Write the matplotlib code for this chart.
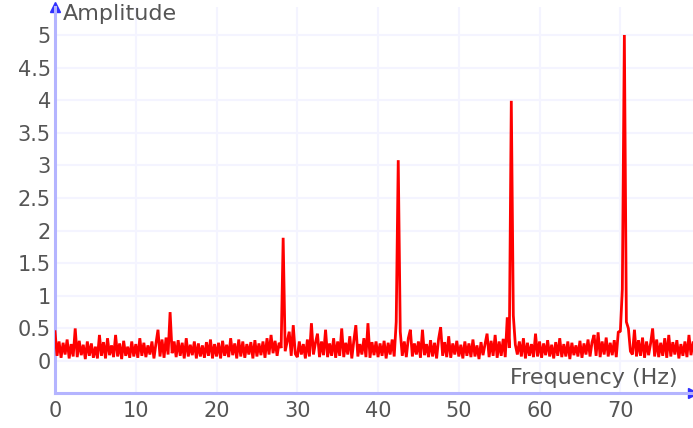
import numpy as np
import matplotlib.pyplot as plt

plt.rcParams['font.family'] = ['DejaVu Sans']

# ---- spectrum data (amplitude every 0.25 Hz from 0 to 79 Hz) ----
freq_step = 0.25
amp = [
    0.45, 0.08, 0.30, 0.05, 0.28, 0.10, 0.33, 0.04, 0.26, 0.07, 0.50, 0.06, 0.31, 0.09, 0.25, 0.03, 0.30, 0.08, 0.27, 0.05,
    0.22, 0.04, 0.40, 0.08, 0.29, 0.04, 0.35, 0.09, 0.24, 0.06, 0.40, 0.07, 0.27, 0.03, 0.31, 0.08, 0.22, 0.05, 0.30, 0.07,
    0.26, 0.05, 0.35, 0.08, 0.28, 0.06, 0.24, 0.10, 0.30, 0.04, 0.27, 0.48, 0.07, 0.33, 0.05, 0.36, 0.10, 0.75, 0.12, 0.30,
    0.06, 0.32, 0.08, 0.28, 0.04, 0.35, 0.07, 0.25, 0.09, 0.30, 0.04, 0.27, 0.07, 0.24, 0.05, 0.29, 0.08, 0.33, 0.04, 0.26,
    0.07, 0.28, 0.04, 0.31, 0.08, 0.25, 0.06, 0.35, 0.09, 0.27, 0.04, 0.33, 0.07, 0.30, 0.05, 0.26, 0.10, 0.29, 0.04, 0.32,
    0.07, 0.27, 0.09, 0.30, 0.05, 0.35, 0.10, 0.40, 0.12, 0.31, 0.08, 0.28, 0.20, 1.89, 0.15, 0.30, 0.45, 0.08, 0.55, 0.11,
    0.06, 0.30, 0.10, 0.26, 0.04, 0.33, 0.07, 0.58, 0.10, 0.28, 0.42, 0.06, 0.30, 0.09, 0.48, 0.06, 0.27, 0.08, 0.35, 0.05,
    0.30, 0.08, 0.50, 0.06, 0.28, 0.10, 0.38, 0.04, 0.31, 0.55, 0.07, 0.26, 0.10, 0.35, 0.06, 0.58, 0.05, 0.29, 0.09, 0.30,
    0.06, 0.27, 0.08, 0.31, 0.04, 0.28, 0.10, 0.33, 0.07, 0.60, 3.08, 0.45, 0.08, 0.30, 0.06, 0.35, 0.48, 0.07, 0.27, 0.10,
    0.30, 0.05, 0.48, 0.09, 0.26, 0.06, 0.32, 0.07, 0.28, 0.04, 0.34, 0.52, 0.08, 0.29, 0.06, 0.38, 0.05, 0.27, 0.10, 0.31,
    0.07, 0.25, 0.04, 0.30, 0.08, 0.27, 0.06, 0.33, 0.07, 0.24, 0.03, 0.29, 0.09, 0.26, 0.42, 0.06, 0.31, 0.08, 0.40, 0.05,
    0.30, 0.08, 0.34, 0.06, 0.67, 0.20, 3.99, 0.70, 0.25, 0.10, 0.30, 0.07, 0.35, 0.04, 0.28, 0.08, 0.26, 0.06, 0.42, 0.07,
    0.30, 0.05, 0.27, 0.09, 0.32, 0.07, 0.25, 0.04, 0.29, 0.08, 0.35, 0.06, 0.26, 0.07, 0.30, 0.03, 0.28, 0.09, 0.24, 0.07,
    0.31, 0.05, 0.27, 0.10, 0.33, 0.07, 0.29, 0.40, 0.08, 0.44, 0.06, 0.30, 0.10, 0.36, 0.07, 0.28, 0.09, 0.32, 0.06, 0.45,
    0.45, 1.10, 5.00, 0.60, 0.50, 0.15, 0.10, 0.48, 0.07, 0.32, 0.08, 0.36, 0.05, 0.30, 0.09, 0.27, 0.50, 0.07, 0.33, 0.06,
    0.28, 0.08, 0.35, 0.05, 0.40, 0.07, 0.29, 0.10, 0.32, 0.04, 0.26, 0.08, 0.30, 0.06, 0.40, 0.09, 0.28,
]
freq = np.arange(len(amp)) * freq_step

x_ticks = [0, 10, 20, 30, 40, 50, 60, 70]
y_ticks = [0, 0.5, 1, 1.5, 2, 2.5, 3, 3.5, 4, 4.5, 5]
y_labels = ['0', '0.5', '1', '1.5', '2', '2.5', '3', '3.5', '4', '4.5', '5']

# ---- figure ----
fig = plt.figure(figsize=(6.93, 4.28), dpi=100)
ax = fig.add_axes([0.0794, 0.0818, 0.9206, 0.902])

ax.plot(freq, amp, color='#ff0000', linewidth=2.0, solid_joinstyle='bevel', zorder=3)

ax.set_xlim(0, 79)
ax.set_ylim(-0.49, 5.43)
ax.set_xticks(x_ticks)
ax.set_yticks(y_ticks)
ax.set_yticklabels(y_labels)
ax.tick_params(axis='both', length=0, labelsize=15, colors='#555555')
ax.tick_params(axis='y', pad=3)
ax.tick_params(axis='x', pad=6)

ax.grid(True, color='#f4f4ff', linewidth=1.5)
ax.set_axisbelow(True)

for side in ['top', 'right']:
    ax.spines[side].set_visible(False)
for side in ['left', 'bottom']:
    ax.spines[side].set_color('#b4b4ff')
    ax.spines[side].set_linewidth(2.2)

# axis arrows
ax.plot([0], [1], marker='^', markersize=7, color='#3030ff', transform=ax.transAxes, clip_on=False)
ax.plot([1], [0], marker='>', markersize=7, color='#3030ff', transform=ax.transAxes, clip_on=False)

# axis titles
fig.text(63 / 693, 1 - 14 / 428, 'Amplitude', ha='left', va='center', fontsize=16, color='#555555')
fig.text(510 / 693, 1 - 378 / 428, 'Frequency (Hz)', ha='left', va='center', fontsize=16, color='#555555')

fig.savefig('out.png', dpi=100)
